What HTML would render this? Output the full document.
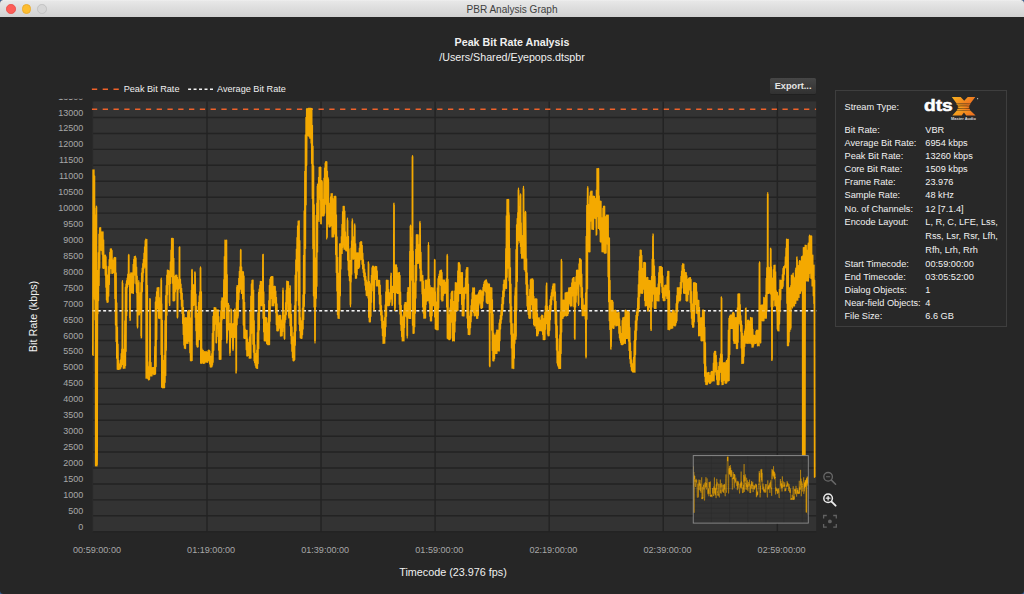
<!DOCTYPE html>
<html><head><meta charset="utf-8"><title>PBR Analysis Graph</title>
<style>
html,body{margin:0;padding:0;}
body{width:1024px;height:594px;background:#33609c;overflow:hidden;position:relative;font-family:"Liberation Sans",sans-serif;}
.win{position:absolute;left:0;top:0;width:1024px;height:594px;background:#262626;border-radius:3.5px;}
.tb{position:absolute;left:0;top:0;width:1024px;height:17.2px;background:linear-gradient(#f0f0f0 0,#e7e7e7 1.2px,#d1d1d1 100%);box-sizing:border-box;border-radius:3.5px 3.5px 0 0;}
.tbt{position:absolute;left:0;width:1024px;top:3.9px;text-align:center;font-size:10.05px;line-height:12px;color:#3e3e3e;}
.dot{position:absolute;top:4.1px;width:9.6px;height:9.6px;border-radius:50%;box-sizing:border-box;}
.h1{position:absolute;left:0;width:1024px;text-align:center;top:36px;font-size:10.7px;line-height:12px;font-weight:bold;color:#f0f0f0;}
.h2{position:absolute;left:0;width:1024px;text-align:center;top:51.2px;font-size:10.7px;line-height:12px;color:#f0f0f0;}
.lg{position:absolute;top:82.6px;font-size:9.15px;line-height:12px;color:#efefef;white-space:nowrap;}
.yl{position:absolute;left:30px;width:53.3px;text-align:right;font-size:9px;line-height:12px;color:#a8a8a8;}
.xl{position:absolute;top:544.1px;width:60px;text-align:center;font-size:9.09px;line-height:12px;color:#a8a8a8;}
.xt{position:absolute;left:353px;width:200px;text-align:center;top:565.9px;font-size:10.8px;line-height:13px;color:#f0f0f0;}
.yt{position:absolute;left:-67.5px;top:309.5px;width:200px;text-align:center;font-size:10.8px;line-height:13px;color:#f0f0f0;transform:rotate(-90deg);}
.exp{position:absolute;left:770px;top:78px;width:46.2px;height:16px;background:linear-gradient(#464646,#313131);border-radius:1.5px;box-shadow:0 0.5px 0.5px #1a1a1a;color:#e4e4e4;font-weight:bold;font-size:9.2px;line-height:16.2px;text-align:center;}
.panel{position:absolute;left:835px;top:90.3px;width:172px;height:237px;box-sizing:border-box;border:1px solid #3e3e3e;background:#282828;}
.ik{position:absolute;left:844.5px;font-size:9.2px;line-height:12px;color:#f2f2f2;white-space:nowrap;}
.iv{position:absolute;left:925.3px;font-size:9.2px;line-height:12px;color:#f2f2f2;white-space:nowrap;}
svg{position:absolute;left:0;top:0;}
</style></head><body>
<div class="win"></div>
<div class="tb"></div>
<div class="dot" style="left:6.3px;background:#fd5e58;border:0.5px solid #ec514c"></div>
<div class="dot" style="left:21.6px;background:#fdbd2f;border:0.5px solid #eaac30"></div>
<div class="dot" style="left:37px;background:#d6d6d6;border:0.5px solid #c2c2c2"></div>
<div class="tbt">PBR Analysis Graph</div>
<div class="h1">Peak Bit Rate Analysis</div>
<div class="h2">/Users/Shared/Eyepops.dtspbr</div>
<div class="lg" style="left:123.7px">Peak Bit Rate</div>
<div class="lg" style="left:217px">Average Bit Rate</div>
<div class="yl" style="top:520.75px">0</div><div class="yl" style="top:504.82px">500</div><div class="yl" style="top:488.88px">1000</div><div class="yl" style="top:472.95px">1500</div><div class="yl" style="top:457.02px">2000</div><div class="yl" style="top:441.09px">2500</div><div class="yl" style="top:425.15px">3000</div><div class="yl" style="top:409.22px">3500</div><div class="yl" style="top:393.29px">4000</div><div class="yl" style="top:377.36px">4500</div><div class="yl" style="top:361.42px">5000</div><div class="yl" style="top:345.49px">5500</div><div class="yl" style="top:329.56px">6000</div><div class="yl" style="top:313.62px">6500</div><div class="yl" style="top:297.69px">7000</div><div class="yl" style="top:281.76px">7500</div><div class="yl" style="top:265.83px">8000</div><div class="yl" style="top:249.89px">8500</div><div class="yl" style="top:233.96px">9000</div><div class="yl" style="top:218.03px">9500</div><div class="yl" style="top:202.10px">10000</div><div class="yl" style="top:186.16px">10500</div><div class="yl" style="top:170.23px">11000</div><div class="yl" style="top:154.30px">11500</div><div class="yl" style="top:138.37px">12000</div><div class="yl" style="top:122.43px">12500</div><div class="yl" style="top:106.50px">13000</div><div class="yl" style="top:90.57px;height:12px;clip-path:inset(8.1px 0 0 0)">13500</div>
<div class="xl" style="left:67.00px">00:59:00:00</div><div class="xl" style="left:181.10px">01:19:00:00</div><div class="xl" style="left:295.20px">01:39:00:00</div><div class="xl" style="left:409.30px">01:59:00:00</div><div class="xl" style="left:523.40px">02:19:00:00</div><div class="xl" style="left:637.50px">02:39:00:00</div><div class="xl" style="left:751.60px">02:59:00:00</div>
<div class="xt">Timecode (23.976 fps)</div>
<div class="yt">Bit Rate (kbps)</div>
<div class="exp">Export...</div>
<div class="panel"></div>
<div class="ik" style="top:101.00px">Stream Type:</div><div class="ik" style="top:124.00px">Bit Rate:</div><div class="iv" style="top:124.00px">VBR</div><div class="ik" style="top:137.10px">Average Bit Rate:</div><div class="iv" style="top:137.10px">6954 kbps</div><div class="ik" style="top:150.20px">Peak Bit Rate:</div><div class="iv" style="top:150.20px">13260 kbps</div><div class="ik" style="top:163.30px">Core Bit Rate:</div><div class="iv" style="top:163.30px">1509 kbps</div><div class="ik" style="top:176.30px">Frame Rate:</div><div class="iv" style="top:176.30px">23.976</div><div class="ik" style="top:189.30px">Sample Rate:</div><div class="iv" style="top:189.30px">48 kHz</div><div class="ik" style="top:202.50px">No. of Channels:</div><div class="iv" style="top:202.50px">12 [7.1.4]</div><div class="ik" style="top:216.00px">Encode Layout:</div><div class="iv" style="top:216.00px">L, R, C, LFE, Lss,</div><div class="iv" style="top:230.00px">Rss, Lsr, Rsr, Lfh,</div><div class="iv" style="top:243.80px">Rfh, Lrh, Rrh</div><div class="ik" style="top:257.60px">Start Timecode:</div><div class="iv" style="top:257.60px">00:59:00:00</div><div class="ik" style="top:270.80px">End Timecode:</div><div class="iv" style="top:270.80px">03:05:52:00</div><div class="ik" style="top:284.00px">Dialog Objects:</div><div class="iv" style="top:284.00px">1</div><div class="ik" style="top:297.00px">Near-field Objects:</div><div class="iv" style="top:297.00px">4</div><div class="ik" style="top:310.00px">File Size:</div><div class="iv" style="top:310.00px">6.6 GB</div>
<svg width="1024" height="594" viewBox="0 0 1024 594">
<defs>
<clipPath id="pc"><rect x="91.5" y="101.4" width="724.75" height="430.35"/></clipPath>
<clipPath id="mc"><rect x="693.25" y="455.6" width="115.04999999999995" height="67.5"/></clipPath>
<linearGradient id="xg" x1="0" y1="0" x2="1" y2="0.35"><stop offset="0" stop-color="#f7b21e"/><stop offset="1" stop-color="#ef7420"/></linearGradient>
<path id="dl" d="M92.6 355.19 L92.9 169.91 L93.2 355.39 L93.5 169.96 L93.8 277.82 L94.1 169.78 L94.4 286.53 L94.48 298.927 L94.7 176.12 L94.8 300 L94.88 240.604 L95 319.86 L95.12 298.765 L95.2 240 L95.3 214.74 L95.48 465.59 L95.52 240.932 L95.6 452.54 L95.8 466 L95.9 253.45 L96.08 208.011 L96.12 463.879 L96.2 452.75 L96.4 206 L96.5 253 L96.68 465.275 L96.72 206.714 L96.8 452.57 L97 466 L97.1 287.37 L97.32 464.454 L97.4 452.88 L97.7 270.43 L98 313.85 L98.3 252.49 L98.6 300.59 L98.9 234.15 L99.2 285.52 L99.5 227.83 L99.8 268.09 L100.1 227.93 L100.4 250.19 L100.7 227.51 L101 250.11 L101.3 232.54 L101.6 250.38 L101.9 231.78 L102.2 254.15 L102.5 231.96 L102.8 268.04 L103.1 231.88 L103.4 268.41 L103.7 239.93 L104 268.19 L104.3 255.15 L104.6 268.27 L104.9 255.32 L105.2 275.18 L105.5 255.08 L105.8 287.2 L106.1 256.76 L106.4 299.97 L106.7 266.17 L107 302.19 L107.3 276.38 L107.6 302.34 L107.9 274.85 L108.2 302 L108.5 266.61 L108.8 296.09 L109.1 259.64 L109.4 284.52 L109.7 252.41 L110 273.46 L110.3 248.91 L110.6 266.4 L110.9 249.06 L111.2 268.67 L111.5 248.89 L111.8 273.35 L112.1 250.56 L112.4 273.5 L112.7 259.77 L113 273.28 L113.3 261.8 L113.6 272.44 L113.9 258.18 L114.2 269.19 L114.5 257.4 L114.8 298.49 L115.1 257.83 L115.4 324.91 L115.7 257.6 L116 341.41 L116.3 272.72 L116.6 358.21 L116.9 302.93 L117.2 369.29 L117.5 327 L117.8 369.33 L118.1 344.03 L118.4 369.48 L118.7 360.37 L119 369.3 L119.3 366.53 L119.6 369.2 L119.9 363.87 L120.2 368.99 L120.5 359.78 L120.8 368.29 L121.1 353.57 L121.4 366.62 L121.7 348.97 L122 364.57 L122.18 281.835 L122.3 349.41 L122.5 280.5 L122.6 363.17 L122.82 283.308 L122.9 349.36 L123.2 368.14 L123.5 349.21 L123.8 368.35 L124.1 356.74 L124.4 368 L124.7 320.75 L125 368.22 L125.3 287.39 L125.6 365.57 L125.9 284.08 L126.2 351.31 L126.5 280.88 L126.8 315.41 L127.1 277.98 L127.4 287.73 L127.7 274.3 L128 284.47 L128.3 274.02 L128.43 255.304 L128.6 282.9 L128.75 254.25 L128.9 274.26 L129.07 255.148 L129.2 286.56 L129.5 274.12 L129.68 317.846 L129.8 286.54 L130 320.5 L130.1 274.58 L130.32 320.074 L130.4 286.63 L130.7 272.9 L131 286.7 L131.3 272.97 L131.6 293 L131.9 272.91 L132.2 293.06 L132.5 272.78 L132.8 293.02 L133.1 264.33 L133.4 293.37 L133.7 259.36 L134 283.15 L134.3 256.54 L134.6 271.22 L134.9 256.68 L135.2 275.14 L135.5 256.15 L135.8 283.85 L136.1 257.95 L136.4 292.56 L136.7 267.12 L137 302.41 L137.18 326.31 L137.3 275.96 L137.5 328 L137.6 312.54 L137.82 326.999 L137.9 284.96 L138.2 314.51 L138.43 282.946 L138.5 293.43 L138.75 280.5 L138.8 314.82 L139.07 282.145 L139.1 303.34 L139.4 314.83 L139.7 298.49 L140 312.77 L140.3 292.57 L140.6 308.05 L140.9 282.66 L140.93 335.718 L141.2 302.77 L141.25 338 L141.5 272.78 L141.57 337.492 L141.8 297.79 L142.1 268.04 L142.4 291.8 L142.7 263.53 L143 281.6 L143.3 259.37 L143.6 272.74 L143.9 253.18 L144.2 268.26 L144.5 246.94 L144.8 263.74 L145.1 240.64 L145.4 267.34 L145.7 239.19 L146 378.21 L146.3 239.48 L146.6 378.02 L146.9 239.33 L147.2 378.16 L147.5 285.25 L147.8 378.57 L148.1 367.73 L148.4 379.81 L148.7 366.58 L149 379.82 L149.3 361.78 L149.6 379.38 L149.68 298.5 L149.9 361.86 L150 300.5 L150.2 375.92 L150.32 298.704 L150.5 361.88 L150.8 375.87 L151.1 362.54 L151.4 376 L151.7 369 L152 375.89 L152.3 367.52 L152.6 374.05 L152.9 367.6 L153.2 373.55 L153.5 367.53 L153.8 374.7 L154.1 367.21 L154.4 374.36 L154.7 346.53 L155 374.45 L155.3 302.09 L155.6 373.71 L155.9 297.19 L156.2 366.62 L156.5 291.72 L156.8 339.43 L157.1 287.9 L157.4 301.79 L157.7 287.91 L158 308.54 L158.3 287.52 L158.6 318.09 L158.9 287.5 L159.2 318.59 L159.5 297.61 L159.8 318.21 L160.1 305.33 L160.4 318.08 L160.7 304.49 L160.93 279.384 L161 354.43 L161.25 278 L161.3 304.11 L161.57 280.298 L161.6 387.13 L161.9 303.94 L162.2 387.43 L162.5 320.43 L162.8 388 L163.1 360.3 L163.4 387.65 L163.7 376.3 L164 387.64 L164.3 355.25 L164.6 387.66 L164.9 320.55 L165.2 382.36 L165.5 295.67 L165.8 375.53 L166.1 285.65 L166.4 350.15 L166.7 275.1 L167 315.25 L167.3 269.95 L167.6 294.8 L167.9 270.18 L168.2 284.53 L168.5 270.49 L168.8 284.26 L169.1 271.29 L169.18 303.006 L169.4 284 L169.5 305.5 L169.7 270.72 L169.82 305.157 L170 284.1 L170.3 261.87 L170.6 283.37 L170.9 250.12 L171.2 276.73 L171.5 238.44 L171.8 270.47 L172.1 238.28 L172.4 283.27 L172.7 238.41 L173 300.65 L173.3 238.58 L173.6 300.96 L173.9 258.21 L174.2 300.84 L174.5 279.54 L174.8 300.35 L175.1 276.13 L175.4 291.77 L175.7 275.2 L176 283.91 L176.3 275.08 L176.6 289.27 L176.9 275.18 L177.18 317.132 L177.2 289.29 L177.5 277.64 L177.5 318 L177.8 289.42 L177.82 316.919 L178.1 280.87 L178.4 289.57 L178.7 279.34 L179 286.96 L179.18 247.369 L179.3 278.93 L179.5 246.75 L179.6 288.49 L179.82 246.931 L179.9 279.42 L180.2 292.69 L180.5 279.23 L180.8 299.33 L181.1 283.98 L181.4 306.19 L181.7 288.36 L182 313.47 L182.3 293.03 L182.6 323.59 L182.9 300 L183.2 334.4 L183.5 307.2 L183.8 345.03 L184.1 314.17 L184.4 348.13 L184.7 324.68 L185 348.24 L185.3 317.71 L185.6 348.59 L185.9 317.5 L186.2 343.3 L186.5 317.74 L186.8 343.31 L187.1 317.8 L187.4 343.12 L187.7 311.61 L188 343.43 L188.3 310.49 L188.6 340.73 L188.9 310.24 L189.2 341.61 L189.5 310.3 L189.8 352.77 L190.1 317.89 L190.4 360.54 L190.7 318.81 L191 360.97 L191.3 290.26 L191.6 360.56 L191.68 270.093 L191.9 288.37 L192 269.25 L192.2 360.52 L192.32 269.841 L192.5 285.75 L192.8 310.43 L193.1 285.17 L193.4 290.71 L193.43 303.395 L193.7 284.7 L193.75 305.5 L194 292.49 L194.07 304.156 L194.3 285.09 L194.6 304.57 L194.68 272.089 L194.9 285.51 L195 271.75 L195.2 317.3 L195.32 272.723 L195.5 288.88 L195.8 330.7 L196.1 294.05 L196.4 344.86 L196.7 306.3 L197 346.79 L197.3 318.59 L197.6 347.13 L197.9 313.27 L198.2 346.8 L198.5 302.29 L198.8 339.72 L199.1 295.8 L199.4 325.81 L199.7 291.8 L200 339.67 L200.18 268.156 L200.3 291.44 L200.5 266.75 L200.6 363.16 L200.82 267.839 L200.9 291.92 L201.2 363.32 L201.5 291.86 L201.8 363.07 L202.1 348.7 L202.4 361.53 L202.7 350.38 L203 363.19 L203.3 350.32 L203.6 363.46 L203.9 354.33 L204.2 363.3 L204.5 351.64 L204.8 362.89 L205.1 351.74 L205.4 358.97 L205.7 351.74 L206 362.19 L206.3 351.42 L206.6 361.86 L206.9 354.13 L207.2 362.31 L207.5 352.04 L207.8 362.24 L208.1 350.24 L208.4 359.48 L208.7 350 L209 360.74 L209.3 350.2 L209.6 363.91 L209.9 351.11 L210.2 366.71 L210.5 356 L210.8 367.17 L211.1 360.62 L211.4 366.99 L211.7 353.49 L212 366.78 L212.3 333.22 L212.6 365.04 L212.9 316.36 L213.2 362.15 L213.5 311.9 L213.8 350.35 L214.1 307.5 L214.4 330.42 L214.7 307.6 L215 320.97 L215.3 307.85 L215.6 324.18 L215.9 307.72 L215.93 342.496 L216.2 324.09 L216.25 343 L216.5 310.23 L216.57 342.785 L216.8 324.16 L217.1 309.92 L217.4 325.48 L217.7 310.17 L218 336.4 L218.3 309.92 L218.6 350.24 L218.9 316.69 L219.2 359.25 L219.5 326.27 L219.8 359.53 L220.1 322.65 L220.4 359.37 L220.7 310.5 L221 359.25 L221.3 301.04 L221.6 339.5 L221.9 297.76 L222.2 319.68 L222.5 297.99 L222.8 318.18 L223.1 297.86 L223.4 318.35 L223.7 279.68 L224 318.45 L224.3 256.61 L224.6 318.43 L224.9 239.97 L225.2 300.23 L225.5 240.3 L225.8 307.03 L226.1 240.41 L226.4 321.83 L226.68 342.968 L226.7 240.11 L227 325.03 L227 343 L227.3 274.54 L227.32 340.024 L227.6 329.14 L227.9 312.34 L228.2 329.94 L228.43 303.249 L228.5 321.51 L228.75 305.5 L228.8 329.58 L229.07 305.248 L229.1 323.69 L229.4 329.8 L229.68 353.349 L229.7 323.5 L230 334.88 L230 355.5 L230.3 323.5 L230.32 352.559 L230.6 337.35 L230.9 323.46 L230.93 308.809 L231.2 337.41 L231.25 310.5 L231.5 327.3 L231.57 310.174 L231.8 337.14 L232.1 323.98 L232.4 335.97 L232.68 349.033 L232.7 323.78 L233 332.73 L233 350.5 L233.3 323.5 L233.32 349.197 L233.6 337.34 L233.9 323.62 L234.18 309.931 L234.2 337.38 L234.5 327.92 L234.5 310.5 L234.8 337.29 L234.82 308.871 L235.1 325.11 L235.4 337.48 L235.7 311.85 L235.93 372.975 L236 333.59 L236.25 373 L236.3 302.53 L236.57 370.241 L236.6 329.22 L236.68 287.434 L236.9 299.51 L237 285.5 L237.2 324.81 L237.32 287.383 L237.5 292.68 L237.68 315.194 L237.8 309.74 L238 318 L238.1 285.27 L238.32 316.042 L238.4 302.74 L238.7 278.22 L239 299.44 L239.3 271.27 L239.6 291.9 L239.9 266.77 L240.2 284.49 L240.43 250.004 L240.5 266.59 L240.75 249.25 L240.8 289.3 L241.07 249.988 L241.1 266.63 L241.4 293.39 L241.7 266.95 L242 293.09 L242.3 271.6 L242.6 298.7 L242.9 271.57 L243.2 325.09 L243.5 271.74 L243.8 338.04 L244.1 276.01 L244.4 338.4 L244.7 302.25 L245 338.41 L245.3 328.99 L245.6 337.88 L245.9 330.22 L246.2 349.78 L246.5 330.43 L246.8 356.04 L247.1 330.38 L247.4 356.09 L247.7 338.94 L248 355.51 L248.3 342.72 L248.6 354.99 L248.9 342.42 L249.2 358.27 L249.5 336.84 L249.8 358.13 L250.1 311.23 L250.4 358.13 L250.7 296.15 L251 358.09 L251.3 284.19 L251.6 333.37 L251.9 280.42 L252.2 315.99 L252.5 280.19 L252.8 344.23 L253.1 280.08 L253.4 352.24 L253.7 289.96 L254 360.79 L254.3 320.49 L254.6 362.75 L254.9 344.8 L255.2 365.27 L255.5 353.32 L255.8 367.33 L256.1 360.67 L256.4 368.19 L256.7 350 L257 368 L257.3 332.55 L257.6 368.5 L257.9 312.93 L258.2 363.56 L258.5 292.57 L258.8 348.54 L259.1 288.97 L259.4 329.89 L259.7 285.05 L260 310.27 L260.3 281.4 L260.6 293.05 L260.9 281.49 L261.2 305.67 L261.5 281.72 L261.8 305.56 L262.1 281.25 L262.4 305.67 L262.68 254.666 L262.7 291.44 L263 318.15 L263 254.25 L263.3 291.84 L263.32 254.333 L263.6 331.81 L263.9 291.89 L264.2 340.72 L264.5 304.43 L264.8 341.03 L265.1 319.76 L265.4 340.88 L265.7 317.45 L266 341.06 L266.3 317.67 L266.6 343.53 L266.9 317.97 L267.2 344.14 L267.5 322.73 L267.8 344.7 L268.1 325.78 L268.4 344.42 L268.7 300.47 L269 344.81 L269.3 285.42 L269.6 344.53 L269.9 279.29 L270.2 321.18 L270.5 277.56 L270.8 298.59 L271.1 276.59 L271.4 288.64 L271.7 276.57 L272 305.83 L272.3 276.51 L272.6 305.6 L272.9 276.65 L273.2 305.62 L273.5 286.21 L273.8 305.8 L274.1 286.62 L274.4 301.04 L274.7 286.15 L275 303.09 L275.3 286.67 L275.6 312.62 L275.9 290.98 L276.2 324.71 L276.5 297.41 L276.8 330.64 L277.1 303.74 L277.4 330.84 L277.7 313.97 L278 330.95 L278.3 319.45 L278.6 330.15 L278.9 315.79 L279.2 326.53 L279.5 315.3 L279.8 328.34 L280.1 315.33 L280.4 336.08 L280.7 315.42 L281 335.8 L281.3 319.92 L281.6 336.02 L281.9 322.64 L282.2 335.66 L282.5 321.68 L282.68 290.323 L282.8 331.5 L283 288 L283.1 321.37 L283.32 290.519 L283.4 327.2 L283.7 319.45 L284 322.52 L284.18 338.361 L284.3 315.32 L284.5 339.25 L284.6 321.82 L284.82 338.693 L284.9 310.27 L285.2 322.14 L285.5 302.47 L285.8 319.54 L286.1 290.15 L286.4 314.79 L286.7 281.19 L287 310.42 L287.3 281.24 L287.6 301.23 L287.9 281.6 L288.2 301.05 L288.43 316.086 L288.5 281.66 L288.75 318 L288.8 303.93 L289.07 315.463 L289.1 289.62 L289.4 313.38 L289.68 288.28 L289.7 297.88 L290 325.69 L290 285.5 L290.3 300.96 L290.32 286.005 L290.6 335.67 L290.9 303.73 L291.2 343.82 L291.5 314.43 L291.8 351.14 L292.1 326.83 L292.4 357.39 L292.7 336.62 L293 360.58 L293.3 345.05 L293.6 360.88 L293.9 332.48 L294.2 360.57 L294.5 305.46 L294.8 359.61 L295.1 275.15 L295.4 345.13 L295.7 259.77 L296 330.86 L296.3 249.09 L296.6 300.68 L296.9 237.46 L297.2 271.08 L297.5 225.71 L297.8 258.63 L298.1 220.96 L298.4 305.24 L298.7 221.1 L299 324.29 L299.3 220.83 L299.6 330.76 L299.9 240.59 L300.2 337.73 L300.5 317.6 L300.8 338.25 L301.1 324.7 L301.4 338.4 L301.7 320.61 L302 338.14 L302.3 308.15 L302.6 334.7 L302.9 294.91 L303.2 328.91 L303.5 255.38 L303.8 319.48 L304.1 210.89 L304.4 306.3 L304.7 171.21 L305 293.58 L305.3 134.81 L305.6 248.49 L305.9 117.36 L306.2 204.8 L306.5 108.79 L306.8 165.18 L307.1 108.68 L307.4 133.17 L307.7 109.14 L308 135.63 L308.3 108.5 L308.6 135.9 L308.9 108.18 L309.2 136.63 L309.5 108.51 L309.8 138.13 L310.1 108.17 L310.4 138.09 L310.7 108.72 L311 143.04 L311.3 108.51 L311.6 163.54 L311.9 108.22 L312.2 198.44 L312.5 125.28 L312.8 248.56 L313.1 146.14 L313.4 295.81 L313.7 165.77 L314 306.95 L314.3 204.65 L314.6 306.9 L314.68 340.646 L314.9 257.77 L315 343 L315.2 306.72 L315.32 340.509 L315.5 259.47 L315.8 306.6 L316.1 215.3 L316.4 298.35 L316.7 203.17 L317 286.27 L317.18 186.227 L317.3 199.95 L317.5 184 L317.6 251.91 L317.82 184.98 L317.9 193.48 L318.2 212.81 L318.43 219.554 L318.5 177.51 L318.75 219 L318.8 203.31 L319.07 221.476 L319.1 167.24 L319.4 199.49 L319.7 167.22 L320 194.22 L320.3 166.95 L320.6 198.92 L320.68 223.71 L320.9 167.28 L321 222.75 L321.2 205.24 L321.32 223.856 L321.5 180.73 L321.68 182.153 L321.8 213.05 L322 180.5 L322.1 194.31 L322.32 181.608 L322.4 215.96 L322.7 199.58 L323 215.52 L323.3 206.01 L323.6 216.05 L323.9 177.98 L324.2 215.31 L324.5 168.06 L324.8 213.14 L325.1 163.16 L325.4 204.37 L325.7 161.63 L326 191.41 L326.3 161.57 L326.6 201.88 L326.68 238.994 L326.9 161.83 L327 236.5 L327.2 212.13 L327.32 237.218 L327.5 171.3 L327.8 218.5 L327.93 177.874 L328.1 192.61 L328.25 177.75 L328.4 223.92 L328.57 179.451 L328.7 203.42 L329 226.64 L329.3 213.16 L329.6 227.07 L329.9 203.2 L330.2 226.73 L330.5 196.72 L330.8 225.71 L331.1 193.7 L331.4 216.66 L331.7 193.89 L332 236.98 L332.3 193.56 L332.6 236.99 L332.9 198.64 L333.2 236.86 L333.5 204.55 L333.8 236.69 L334.1 196.28 L334.4 227.57 L334.7 196.45 L335 234.12 L335.3 196.05 L335.6 254.55 L335.9 196.46 L336.2 272.42 L336.5 214.92 L336.8 290.9 L337.1 236.81 L337.4 314.63 L337.7 257.21 L338 318.16 L338.3 274.55 L338.6 318.06 L338.9 273.1 L339.2 318.43 L339.5 243.73 L339.8 310.64 L340.1 243.75 L340.4 295.87 L340.7 243.6 L341 268.95 L341.3 236.49 L341.6 253.4 L341.9 224.45 L342.2 253.5 L342.5 211.62 L342.8 247.34 L343.1 206.28 L343.4 235.44 L343.7 206.38 L344 249.15 L344.3 206.35 L344.6 249.09 L344.9 211.07 L345.2 249.35 L345.5 231.8 L345.8 250.74 L346.1 237.4 L346.4 250.8 L346.7 236.86 L347 250.99 L347.18 219.885 L347.3 236.61 L347.5 218 L347.6 260.33 L347.82 220.459 L347.9 236.94 L348.2 270.08 L348.5 236.51 L348.8 275.7 L349.1 248.85 L349.4 280.62 L349.7 261.62 L350 281.57 L350.18 304.633 L350.3 260.59 L350.5 306.75 L350.6 282.08 L350.82 304.034 L350.9 247.95 L351.2 282.06 L351.5 240.83 L351.8 274.22 L351.93 221.585 L352.1 238.5 L352.25 218.75 L352.4 258.26 L352.57 220.233 L352.7 236.78 L353 247.07 L353.18 259.499 L353.3 237.19 L353.5 258 L353.6 243.99 L353.82 258.472 L353.9 236.88 L354.2 256.69 L354.43 224.649 L354.5 237.03 L354.75 223.75 L354.8 272.72 L355.07 225.493 L355.1 240.61 L355.4 278.15 L355.7 243.85 L356 278.39 L356.3 252.88 L356.6 278.01 L356.9 252.8 L357.2 274.41 L357.5 252.89 L357.8 268.19 L358.1 252.88 L358.4 268.48 L358.7 253.27 L359 268.04 L359.3 248.1 L359.6 267.04 L359.9 242.55 L360.2 259.98 L360.5 241.95 L360.8 252.66 L361.1 241.58 L361.4 259.45 L361.7 241.83 L362 264.18 L362.3 245.27 L362.6 268.81 L362.9 253.18 L363.2 272.59 L363.5 259.75 L363.8 276.64 L364.1 264.2 L364.4 280.09 L364.7 269.13 L365 285.22 L365.3 272.88 L365.6 289.93 L365.9 276.21 L366.2 295.33 L366.5 280.01 L366.8 295.74 L367.1 285.11 L367.4 295.78 L367.7 281.9 L368 297.91 L368.18 261.991 L368.3 281.67 L368.5 261.75 L368.6 317.36 L368.82 263.814 L368.9 281.45 L369.2 321.8 L369.5 281.63 L369.8 321.97 L370.1 291.38 L370.4 321.84 L370.7 283.64 L371 316.31 L371.3 275.38 L371.6 302.27 L371.9 267.77 L372.2 290.86 L372.5 266.17 L372.8 282.62 L373.1 266.67 L373.4 280.82 L373.68 310.009 L373.7 266.16 L374 280.54 L374 310.5 L374.3 270.77 L374.32 309.17 L374.6 280.81 L374.9 267.19 L375.2 279.44 L375.5 266.38 L375.8 279.24 L376.1 266.65 L376.4 285.97 L376.7 266.62 L377 285.74 L377.3 270.74 L377.6 286 L377.9 280.14 L378.2 285.63 L378.5 280.26 L378.8 294.14 L379.1 280.27 L379.4 303.91 L379.7 280.35 L380 310.22 L380.3 284.96 L380.6 314.95 L380.9 295.16 L381.2 320.53 L381.5 305.48 L381.8 328.07 L382.1 310.57 L382.4 335.65 L382.7 315.46 L383 343.38 L383.3 320.96 L383.6 343.25 L383.9 327.65 L384.2 343.26 L384.5 317.6 L384.8 343.27 L385.1 304.88 L385.4 336.35 L385.7 291.91 L386 326.63 L386.3 280.36 L386.6 316.32 L386.9 280.03 L387.2 303.27 L387.5 280.39 L387.8 305.78 L388.1 280.44 L388.4 305.58 L388.7 289.24 L389 305.56 L389.3 295.51 L389.6 305.27 L389.9 292.52 L390.2 302.1 L390.5 289.75 L390.68 275.909 L390.8 298.92 L391 273 L391.1 286.69 L391.32 273.269 L391.4 295.55 L391.7 286.47 L391.93 305.38 L392 292.3 L392.25 305.5 L392.3 286.27 L392.57 304.181 L392.6 291.31 L392.9 286.42 L393.2 292.51 L393.5 284.9 L393.68 203.572 L393.8 292.44 L394 203 L394.1 277.16 L394.32 205.169 L394.4 292.12 L394.68 310.492 L394.7 268.96 L395 292.3 L395 310.5 L395.3 264.93 L395.32 307.978 L395.6 284.75 L395.9 265.4 L396.2 292.37 L396.5 264.94 L396.8 293.04 L397.1 267.49 L397.4 293.45 L397.7 276.33 L398 293.54 L398.3 272.84 L398.6 289.99 L398.9 272.91 L399.2 304.13 L399.5 272.45 L399.8 313.96 L400.1 275.59 L400.4 324.14 L400.7 292.06 L401 330.52 L401.3 305.39 L401.6 336.6 L401.9 314.94 L402.2 340.91 L402.5 324.96 L402.8 340.6 L403.1 316.53 L403.4 340.57 L403.7 310.68 L404 340.88 L404.3 304.78 L404.6 327.52 L404.9 302.67 L405.2 316.35 L405.5 302.47 L405.8 313.09 L406.1 302.4 L406.4 316.88 L406.7 304.31 L406.93 335.434 L407 316.98 L407.25 338 L407.3 292.4 L407.57 335.639 L407.6 317.09 L407.9 287.65 L408.2 316.72 L408.5 287.54 L408.8 318.27 L409.1 287.89 L409.4 318.45 L409.7 251.27 L410 318.49 L410.18 226.276 L410.3 241.55 L410.5 225 L410.6 318.38 L410.82 225.85 L410.9 237.91 L411.18 269.985 L411.2 280.25 L411.5 238.1 L411.5 268 L411.8 278.24 L411.82 269.544 L412.1 238.5 L412.18 156.764 L412.4 325.17 L412.5 155.5 L412.7 241.61 L412.82 156.516 L413 333.37 L413.3 251.04 L413.6 333.31 L413.9 285.36 L414.2 333.08 L414.5 282.86 L414.8 326.79 L415.1 265.35 L415.4 313.2 L415.7 249.31 L416 298.06 L416.3 234.79 L416.6 280.13 L416.9 234.65 L417.2 263.07 L417.5 234.88 L417.8 263.37 L418.1 234.72 L418.4 263.08 L418.7 244.52 L419 263.15 L419.3 249.41 L419.6 268.16 L419.68 222.566 L419.9 249.12 L420 221.25 L420.2 281.02 L420.32 223.248 L420.5 249.03 L420.8 280.74 L421.1 252.44 L421.4 280.51 L421.7 270.81 L422 293.84 L422.3 275.29 L422.6 306.89 L422.9 275.23 L423.2 313.06 L423.5 281.06 L423.8 318.15 L424.1 295.36 L424.4 318.03 L424.7 289.18 L425 318.24 L425.3 280.36 L425.6 318.04 L425.9 280.03 L426.2 304.51 L426.5 280.17 L426.8 301.06 L427.1 282.01 L427.4 300.62 L427.7 279.14 L428 300.8 L428.18 244.978 L428.3 279.12 L428.5 242.5 L428.6 295.11 L428.82 245.212 L428.9 279.4 L429.2 303.09 L429.5 279.32 L429.8 316.13 L430.1 285.45 L430.4 320.97 L430.7 292.03 L431 320.5 L431.3 287.49 L431.6 320.95 L431.9 287.72 L432.2 315.75 L432.5 287.73 L432.8 305.64 L433.1 287.94 L433.4 305.64 L433.7 292.52 L434 305.7 L434.3 291.55 L434.43 259.743 L434.6 316.9 L434.75 259.25 L434.9 291.49 L435.07 260.137 L435.2 328.63 L435.5 291.84 L435.8 329.13 L436.1 301.82 L436.4 329.72 L436.7 311.39 L437 329.41 L437.3 287.91 L437.6 329.83 L437.9 278.77 L438.2 329.78 L438.5 276.49 L438.8 307.96 L439.1 273.96 L439.4 284.85 L439.7 271.13 L440 278.95 L440.3 270.3 L440.6 285.43 L440.9 270.3 L441.2 299.44 L441.5 269.96 L441.8 300.88 L442.1 272.48 L442.4 300.9 L442.7 279.91 L443 300.78 L443.3 280 L443.6 295.32 L443.9 279.99 L444.2 293.26 L444.5 280.07 L444.8 293.34 L445.1 285.53 L445.4 293.13 L445.7 282.1 L446 291.7 L446.3 278.95 L446.6 306.89 L446.9 279.48 L446.93 255.579 L447.2 338.21 L447.25 254.25 L447.5 278.94 L447.57 255.94 L447.8 338.78 L448.1 279.41 L448.4 339.02 L448.7 314.58 L449 339.67 L449.3 324.02 L449.6 339.67 L449.9 307.76 L450.2 339.29 L450.5 299.65 L450.8 338.12 L451.1 292.91 L451.4 322.19 L451.7 291.22 L452 321.04 L452.3 291.23 L452.6 341.05 L452.9 291.18 L453.2 340.56 L453.5 301.38 L453.8 340.57 L454.1 308.18 L454.4 341.01 L454.7 290.91 L455 331.88 L455.3 282.5 L455.6 321.08 L455.9 282.83 L456.2 309.46 L456.5 282.94 L456.8 310.95 L457.1 285.08 L457.4 310.69 L457.7 270.89 L458 310.51 L458.3 262.85 L458.6 301.17 L458.9 262.57 L459.2 287.22 L459.5 262.81 L459.8 293.58 L460.1 264.7 L460.4 293.51 L460.7 272.63 L461 293.02 L461.3 272.75 L461.6 304.43 L461.9 272.54 L462.2 315.71 L462.5 272.58 L462.8 315.82 L463.1 287.87 L463.4 316.02 L463.7 287.95 L464 315.99 L464.3 287.9 L464.6 299 L464.9 287.16 L465.2 293.46 L465.5 278.13 L465.8 293 L466.1 269.85 L466.4 293.29 L466.7 267.52 L467 318.11 L467.3 267.7 L467.6 327.96 L467.9 267.5 L468.2 334.41 L468.5 284.1 L468.8 334.42 L469.1 319.5 L469.4 334.67 L469.7 315.99 L470 334.32 L470.3 310.76 L470.6 327.8 L470.9 305.53 L471.2 321.67 L471.5 299.53 L471.8 315.81 L472.1 292.59 L472.4 310.53 L472.7 287.76 L473 305.68 L473.3 287.95 L473.6 312.73 L473.9 287.98 L474.2 315.62 L474.5 287.84 L474.8 316.04 L475.1 295.2 L475.4 315.73 L475.7 294.97 L476 313.64 L476.3 295.22 L476.6 318.32 L476.9 295.05 L477.2 318.45 L477.5 295.11 L477.8 318.21 L478.1 293.8 L478.4 315.39 L478.7 291.99 L479 304.9 L479.3 290.55 L479.6 295.35 L479.9 290.24 L480.2 303.21 L480.5 290.15 L480.8 308.08 L481.1 290.22 L481.4 308.53 L481.7 293.86 L482 308.11 L482.3 291.1 L482.6 307.42 L482.9 287.35 L483.2 301.09 L483.5 284.33 L483.8 295.15 L484.1 282.1 L484.4 291.03 L484.7 281 L485 287.48 L485.3 280.39 L485.6 291.89 L485.9 280.06 L486.2 302.16 L486.5 279.92 L486.8 303.06 L487.1 282.07 L487.4 303.59 L487.7 283.77 L488 303.44 L488.3 283.99 L488.6 299.55 L488.9 283.87 L489.2 301.56 L489.43 365.706 L489.5 284.13 L489.75 366.75 L489.8 301.73 L490.07 366.164 L490.1 287.98 L490.4 301.74 L490.7 287.53 L491 312.42 L491.3 287.7 L491.6 330.28 L491.9 287.72 L492.2 350.39 L492.5 299.64 L492.8 360.74 L493.1 313.96 L493.4 361.04 L493.7 333.04 L494 360.84 L494.3 335.05 L494.6 358.75 L494.9 335.36 L495.2 353.43 L495.5 334.97 L495.8 353.46 L496.1 332.78 L496.4 353.51 L496.7 330.09 L497 353.38 L497.3 330.23 L497.6 350.69 L497.9 330.12 L498.2 350.56 L498.5 330.25 L498.8 350.97 L499.1 322.97 L499.4 350.88 L499.7 319.65 L500 340.75 L500.3 315.33 L500.6 328.87 L500.9 310.55 L501.2 323.21 L501.5 304.44 L501.8 319.31 L502.1 297.41 L502.4 315.27 L502.7 290.77 L503 310.29 L503.3 284.42 L503.6 303.82 L503.9 280.17 L504.2 296.7 L504.5 280.03 L504.8 290.56 L505.1 280.19 L505.4 288.06 L505.7 248.46 L506 288.32 L506.3 215.77 L506.6 288.31 L506.9 199.62 L507.2 277.3 L507.5 199.69 L507.8 243.45 L508.1 199.43 L508.18 268.255 L508.4 265.03 L508.5 268 L508.68 213.881 L508.7 199.59 L508.82 268.971 L509 280.74 L509 212.5 L509.3 218.61 L509.32 215.414 L509.6 303.07 L509.9 248.21 L510.2 322.21 L510.5 267.47 L510.8 334.16 L511.1 284.01 L511.4 348.01 L511.7 306.5 L512 368.25 L512.3 323.58 L512.6 368.21 L512.9 335.84 L513.2 368.13 L513.5 333.93 L513.8 368.56 L514.1 323.51 L514.4 358.13 L514.68 295.726 L514.7 311.79 L515 343.24 L515 293 L515.3 287.53 L515.32 295.596 L515.6 332.73 L515.68 336.327 L515.9 249.51 L516 339.25 L516.2 322.39 L516.32 336.365 L516.5 224.92 L516.8 310.63 L517.1 218.48 L517.4 281.52 L517.7 212.47 L518 243.91 L518.18 189.86 L518.3 208.32 L518.5 188 L518.6 224.71 L518.82 190.433 L518.9 206.76 L519.18 240.68 L519.2 221.36 L519.5 207.07 L519.5 240.5 L519.8 233.63 L519.82 242.529 L520.1 207.17 L520.18 195.577 L520.4 246.4 L520.5 193.75 L520.7 210.99 L520.82 194.641 L521 253.51 L521.3 222.89 L521.6 258.23 L521.9 235.25 L522.2 258.26 L522.5 244.39 L522.8 258 L523.1 232.22 L523.18 187.963 L523.4 258.17 L523.5 186.25 L523.7 224.6 L523.82 189.108 L524 251.43 L524.18 269.442 L524.3 224.46 L524.5 268 L524.6 257.11 L524.82 269.942 L524.9 224.37 L525.18 212.148 L525.2 271.35 L525.5 224.53 L525.5 211.25 L525.8 284.06 L525.82 212.28 L526.1 242.09 L526.4 294.53 L526.7 258.7 L527 306.04 L527.3 272.83 L527.6 309.87 L527.9 284.83 L528.2 314.45 L528.5 296.32 L528.8 318.01 L529.1 305.64 L529.4 318.39 L529.7 289.35 L530 318.06 L530.3 280.11 L530.6 318.14 L530.9 279.13 L531.2 304.71 L531.5 279.16 L531.8 294.64 L532.1 278.77 L532.4 310.4 L532.7 278.72 L533 318.37 L533.3 280.13 L533.6 324.4 L533.9 296.26 L534.2 325.97 L534.5 309.25 L534.8 325.62 L535.1 298.83 L535.4 325.82 L535.7 298.8 L536 328.51 L536.3 298.72 L536.6 335.83 L536.9 299.09 L537.2 335.64 L537.5 313.67 L537.8 335.8 L538.1 317.96 L538.4 333.68 L538.7 317.91 L539 327.67 L539.3 317.7 L539.6 330.82 L539.9 319.98 L540.2 330.5 L540.5 321.42 L540.8 330.78 L541.1 316.45 L541.4 330.9 L541.7 315 L542 326.44 L542.3 315.25 L542.6 334.4 L542.9 315.45 L543.2 339.63 L543.5 318.51 L543.8 339.27 L544.1 320.18 L544.4 339.66 L544.7 312.58 L545 339.45 L545.3 306.07 L545.6 329.36 L545.9 304.21 L546.18 285.655 L546.2 319.39 L546.5 304.48 L546.5 283 L546.8 323.68 L546.82 283.084 L547.1 304.12 L547.4 333.95 L547.7 306.68 L548 335.72 L548.3 315.02 L548.6 335.82 L548.9 311.04 L549.2 335.63 L549.5 305.24 L549.8 330.35 L550.1 299.57 L550.4 319.8 L550.7 296.12 L551 311 L551.3 292.51 L551.6 304.8 L551.9 289.59 L552.2 299.6 L552.5 286.17 L552.8 296.09 L553.1 283.77 L553.4 292.45 L553.7 284.06 L554 300.26 L554.3 283.9 L554.6 310.63 L554.9 283.78 L555.2 323.77 L555.5 291.73 L555.8 337.53 L556.1 301.34 L556.4 350.03 L556.7 312.32 L557 363 L557.3 325.89 L557.6 365.27 L557.9 338.8 L558.2 366.82 L558.5 351.69 L558.8 368.55 L559.1 355.97 L559.4 368.37 L559.7 334.92 L560 368.42 L560.3 311.84 L560.6 368.41 L560.9 304.37 L561.18 259.817 L561.2 353.4 L561.5 304.23 L561.5 259.25 L561.8 331.91 L561.82 261.286 L562.1 304.44 L562.4 318.11 L562.7 300.48 L563 318.46 L563.3 299.95 L563.6 316.64 L563.9 300.28 L564.2 315.99 L564.5 300.03 L564.8 315.84 L565.1 292.85 L565.4 315.68 L565.7 292.75 L566 311.19 L566.3 292.74 L566.6 315.89 L566.9 292.44 L567.2 315.53 L567.5 295.16 L567.8 315.52 L568.1 291.83 L568.4 313.59 L568.7 287.95 L569 304.05 L569.3 287.73 L569.6 299.91 L569.9 287.77 L570.2 305.86 L570.5 287.44 L570.8 306.09 L571.1 287.61 L571.4 305.75 L571.7 282.74 L572 305.89 L572.3 279.07 L572.6 295.99 L572.9 277.99 L573.2 293.96 L573.5 277.59 L573.8 306.57 L574.1 277.42 L574.4 306.55 L574.43 337.908 L574.7 282.04 L574.75 339.25 L575 306.58 L575.07 338.994 L575.3 287.59 L575.6 306.93 L575.9 276.65 L576.2 302.08 L576.5 270.39 L576.8 295.19 L577.1 270.04 L577.4 286.23 L577.7 269.99 L578 284.44 L578.18 303.519 L578.3 270.99 L578.5 305.5 L578.6 284.38 L578.82 304.384 L578.9 263.77 L579.2 284.28 L579.5 258.69 L579.8 279.91 L580.1 258.67 L580.4 286.13 L580.7 259.24 L581 297.18 L581.3 260.01 L581.6 308.66 L581.9 274.15 L582.2 315.69 L582.5 287.56 L582.8 315.6 L583.1 298.48 L583.4 315.79 L583.7 305.75 L584 315.72 L584.3 305.16 L584.6 314.94 L584.9 305.09 L585.2 319.09 L585.5 292.85 L585.68 356.258 L585.8 319.22 L586 358 L586.1 236.36 L586.32 356.751 L586.4 319.38 L586.7 205.6 L587 319.23 L587.3 204.03 L587.43 188.09 L587.6 288.77 L587.75 186.5 L587.9 204.03 L588.07 188.194 L588.2 251.84 L588.5 204.32 L588.8 251.54 L589.1 205.42 L589.4 251.92 L589.7 196.2 L590 251.7 L590.3 192.44 L590.6 221.29 L590.9 191 L591.2 216.59 L591.5 191.31 L591.8 229.26 L592.1 190.97 L592.4 229.23 L592.7 198.16 L593 229.36 L593.3 195.96 L593.6 229.48 L593.9 196.33 L594.2 218 L594.5 196.34 L594.8 218.25 L595.1 198.3 L595.4 218.49 L595.7 202.47 L596 218.03 L596.18 235.189 L596.3 190.1 L596.5 234 L596.6 216.99 L596.82 234.343 L596.9 168.48 L597.2 216.84 L597.5 168.84 L597.8 215.01 L598.1 168.52 L598.4 228.41 L598.7 168.45 L599 228.21 L599.3 195.72 L599.6 229.83 L599.9 201.02 L600.2 241.62 L600.5 201.05 L600.8 242.06 L601.1 201.36 L601.4 241.86 L601.7 217.59 L602 251.78 L602.3 217.88 L602.6 251.65 L602.9 208.35 L603.2 251.97 L603.5 206.22 L603.8 249.32 L604.1 206.02 L604.4 253.21 L604.7 206.36 L605 253.1 L605.3 216.56 L605.6 253.28 L605.9 217.19 L606.2 253.04 L606.5 215.15 L606.8 234.71 L607.1 215.38 L607.4 244.11 L607.7 215.08 L608 276.72 L608.3 215.16 L608.6 301.64 L608.9 237.69 L609.2 320.79 L609.5 237.97 L609.8 329.4 L610.1 280.43 L610.4 331.56 L610.68 348.708 L610.7 305.17 L611 331.97 L611 349.25 L611.3 300.41 L611.32 346.58 L611.6 331.86 L611.9 300.29 L612.2 327.21 L612.5 300.49 L612.8 328.02 L613.1 302.11 L613.4 328.52 L613.7 313.21 L614 328.34 L614.3 310.34 L614.6 324.97 L614.9 310.24 L615.2 323.07 L615.5 310.04 L615.8 325.99 L616.1 310.92 L616.4 325.65 L616.7 316.91 L617 325.62 L617.3 312.89 L617.6 324.84 L617.9 312.97 L618.2 325.55 L618.5 312.48 L618.8 333.2 L619.1 312.43 L619.4 337.8 L619.7 318.75 L620 340.23 L620.3 326.26 L620.6 342.57 L620.9 333.64 L621.2 344.4 L621.5 333.41 L621.8 344.63 L622.1 320.58 L622.4 344.65 L622.7 317.76 L623 344.52 L623.3 317.9 L623.6 343.58 L623.9 317.4 L624.2 343.13 L624.5 316.98 L624.8 343.15 L625.1 310.29 L625.4 343.54 L625.7 309.96 L626 338.5 L626.3 310.47 L626.6 338.47 L626.9 313.37 L627.2 338.39 L627.5 311.16 L627.8 338.03 L628.1 311.66 L628.4 340.95 L628.7 311.19 L629 350.41 L629.3 312.82 L629.6 358.75 L629.9 327.55 L630.2 363.13 L630.5 342.81 L630.8 366.65 L631.1 351.33 L631.4 370.22 L631.7 359.7 L632 371.06 L632.3 363.56 L632.6 371.82 L632.9 367.06 L633.2 372.18 L633.5 357.26 L633.8 371.77 L634.1 340.78 L634.4 371.88 L634.7 330.77 L635 372.27 L635.3 320.8 L635.6 354.58 L635.9 315.45 L636.2 339.72 L636.5 311.73 L636.8 330.17 L637.1 308.48 L637.4 319.94 L637.7 297.9 L638 315.64 L638.3 284.61 L638.6 312.09 L638.9 270.81 L639.2 308.42 L639.5 256.47 L639.8 296.33 L640.1 250.17 L640.4 282.79 L640.7 249.98 L641 293.16 L641.3 250.25 L641.6 293.09 L641.9 255.44 L642.2 293.5 L642.5 275.8 L642.8 293.1 L643.1 268.31 L643.4 289.19 L643.7 262.46 L644 283.07 L644.3 262.41 L644.6 300.43 L644.9 262.46 L645.2 305.9 L645.5 262.87 L645.8 305.79 L646.1 277.83 L646.4 305.65 L646.7 277.88 L647 304.22 L647.3 277.41 L647.6 311.1 L647.9 277.44 L648.2 310.56 L648.5 280.33 L648.8 311.04 L649.1 280.47 L649.4 307.34 L649.7 280.32 L650 307.09 L650.3 280.49 L650.6 306.98 L650.68 328.856 L650.9 287.23 L651 330.5 L651.2 306.58 L651.32 330.163 L651.5 276.25 L651.8 307 L652.1 259.18 L652.4 301.21 L652.68 236.337 L652.7 259.24 L653 293.55 L653 233.75 L653.3 259.37 L653.32 234.51 L653.6 294.34 L653.9 259.42 L654.2 308.11 L654.5 265.79 L654.8 308.43 L655.1 276.38 L655.4 308.05 L655.7 287.95 L656 308.37 L656.3 287.7 L656.6 300.16 L656.9 287.88 L657.2 300.51 L657.5 287.58 L657.8 300.99 L658.1 283.76 L658.4 300.62 L658.7 272.5 L659 300.94 L659.3 266.51 L659.6 294.18 L659.9 266.72 L660.2 282.66 L660.5 266.55 L660.8 274.51 L661.1 266.31 L661.4 286.3 L661.7 267.32 L662 292.71 L662.3 267.55 L662.6 297.69 L662.9 275.84 L663.2 300.61 L663.5 287.5 L663.8 300.72 L664.1 290.97 L664.4 300.72 L664.7 285.57 L665 300.5 L665.3 285.19 L665.6 295.62 L665.9 285.19 L666.2 295.93 L666.5 285.07 L666.8 298.49 L667.1 276.48 L667.4 298.19 L667.7 271.32 L668 329.48 L668.3 271.3 L668.6 329.29 L668.9 271.23 L669.2 329.82 L669.5 290.62 L669.8 329.56 L670.1 312.68 L670.4 325.86 L670.7 312.99 L671 328.58 L671.3 312.87 L671.6 328.11 L671.9 314.74 L672.2 328.15 L672.5 310.01 L672.8 328.02 L673.1 310.44 L673.4 324.72 L673.7 310.38 L674 325.51 L674.3 310.74 L674.6 325.85 L674.9 317.99 L675.2 325.92 L675.5 312.94 L675.8 325.02 L676.1 303.67 L676.4 322.53 L676.7 295.63 L677 320.8 L677.3 287.7 L677.6 311.67 L677.9 287.93 L678.2 302.94 L678.5 287.92 L678.8 300.86 L679.1 287.48 L679.4 300.59 L679.7 288.16 L680 300.95 L680.3 282.4 L680.6 300 L680.9 276.22 L681.2 293.73 L681.5 270.96 L681.8 288 L682.1 265.33 L682.4 281.74 L682.7 263.69 L683 281.97 L683.3 264.05 L683.6 293.14 L683.9 264.05 L684.2 293.26 L684.5 269.41 L684.8 293.48 L685.1 272.45 L685.4 293.49 L685.7 272.49 L686 300.53 L686.3 272.69 L686.6 301.07 L686.9 275.74 L687.2 300.65 L687.5 279.89 L687.8 300.88 L688.1 279.07 L688.4 294.42 L688.7 278.39 L689 284.76 L689.3 277.7 L689.6 290.01 L689.9 277.92 L690.2 302.58 L690.5 277.53 L690.8 311.78 L691.1 279.62 L691.4 318.13 L691.7 291.47 L692 324.6 L692.3 303.98 L692.6 327.13 L692.9 303.84 L693.2 327.16 L693.5 282.84 L693.8 327.08 L694.1 282.45 L694.4 321.87 L694.7 282.85 L695 300.81 L695.3 282.74 L695.6 304.37 L695.9 283.23 L696.2 313.18 L696.5 283.61 L696.8 313.07 L697.1 291.94 L697.4 313.57 L697.7 300.19 L698 321.66 L698.3 300.22 L698.6 335.82 L698.9 300.41 L699.2 335.57 L699.5 307.42 L699.8 335.68 L700.1 317.76 L700.4 335.67 L700.7 317.85 L701 340.55 L701.3 317.67 L701.6 341 L701.9 318.53 L702.2 340.84 L702.5 310.11 L702.8 340.62 L703.1 310.07 L703.4 340.68 L703.7 310.17 L704 363.37 L704.3 311.52 L704.6 376.34 L704.9 327.25 L705.2 381.68 L705.5 342.69 L705.8 384.48 L706.1 366.65 L706.4 384.26 L706.7 376.32 L707 384.77 L707.3 372.86 L707.6 383.94 L707.9 372.71 L708.2 379.92 L708.5 372.41 L708.8 382.03 L709.1 372.54 L709.4 383.1 L709.7 375.53 L710 383.52 L710.3 375.42 L710.6 383.04 L710.9 372.08 L711.2 382.14 L711.5 371.31 L711.8 378.57 L712.1 371.61 L712.4 381.08 L712.7 371.31 L713 380.59 L713.3 363.05 L713.6 380.71 L713.9 352.99 L714.2 380.87 L714.5 351.24 L714.8 371.96 L715.1 351.44 L715.4 369.69 L715.7 351.3 L716 374.88 L716.3 355.21 L716.6 379.61 L716.9 362.57 L717.2 384.41 L717.5 370.42 L717.8 384.77 L718.1 373.2 L718.4 384.71 L718.7 366.3 L719 384.55 L719.3 362.02 L719.6 380.04 L719.9 358.3 L720.2 372.37 L720.5 353.98 L720.8 366.34 L721.1 354.27 L721.18 297.035 L721.4 381.55 L721.5 296.75 L721.7 354.23 L721.82 298.342 L722 384.68 L722.3 354.32 L722.6 384.48 L722.9 364.08 L723.2 384.48 L723.5 362.81 L723.8 380.47 L724.1 362.49 L724.4 379.3 L724.7 362.73 L725 383.11 L725.3 366.25 L725.6 383.09 L725.9 361.95 L726.2 383.35 L726.5 360.45 L726.8 382.65 L727.1 360.31 L727.4 381.01 L727.7 358.4 L728 381.08 L728.3 329.98 L728.6 380.76 L728.9 318.35 L729.2 380.51 L729.5 316.47 L729.8 354.44 L730.1 315.2 L730.4 325.85 L730.7 315.04 L731 328.32 L731.3 314.9 L731.6 328.31 L731.9 316.69 L732.2 328.41 L732.5 312.77 L732.8 328.21 L733.1 312.64 L733.4 340.81 L733.7 312.43 L734 343.41 L734.3 313.88 L734.6 343.06 L734.9 317.78 L735.2 343.24 L735.5 317.66 L735.8 343.54 L736.1 317.47 L736.4 348.58 L736.7 317.71 L737 348.26 L737.3 307.7 L737.6 348.6 L737.9 294.04 L738.2 342.18 L738.5 293.76 L738.8 323.53 L739.1 294.06 L739.4 321.25 L739.7 293.75 L740 324.97 L740.3 304.63 L740.6 331.34 L740.9 315.69 L741.2 348.09 L741.5 320.74 L741.8 363.53 L742.1 325.08 L742.4 363.09 L742.7 333.43 L743 363.31 L743.3 340.38 L743.6 363.11 L743.9 335.95 L744.2 356.18 L744.5 331.07 L744.8 346.41 L745.1 328.9 L745.4 340.3 L745.43 308.495 L745.7 329.47 L745.75 309.25 L746 343.25 L746.07 307.782 L746.3 329.03 L746.6 343.18 L746.9 326.39 L747.2 343 L747.5 320.32 L747.8 343.51 L748.1 320.15 L748.4 341.6 L748.7 320.38 L749 343.3 L749.3 321.07 L749.6 343.16 L749.9 325.11 L750.2 343.32 L750.5 317.4 L750.8 339.59 L751.1 317.75 L751.4 343.95 L751.7 317.91 L752 347.21 L752.3 317.94 L752.6 346.81 L752.9 329.4 L753.2 347.06 L753.5 335.01 L753.8 344.87 L754.1 335.02 L754.4 341.54 L754.7 335.49 L755 343.46 L755.3 336.59 L755.6 343.43 L755.9 331.29 L756.2 343.1 L756.5 330.34 L756.8 342.56 L757.1 329.96 L757.4 345.85 L757.7 330.29 L758 345.77 L758.3 331.83 L758.6 345.53 L758.9 324.77 L759.18 263.412 L759.2 345.85 L759.5 318.42 L759.5 261.75 L759.8 338.72 L759.82 262.43 L760.1 310.53 L760.18 341.282 L760.4 330.93 L760.5 343 L760.7 305.47 L760.82 342.661 L761 324.81 L761.3 304.99 L761.6 317.84 L761.9 304.96 L762.2 320.56 L762.5 305.32 L762.8 320.86 L763.1 304.62 L763.4 320.8 L763.7 297.43 L764 320.65 L764.3 297.77 L764.6 316.03 L764.9 297.87 L765.2 318.19 L765.5 294.97 L765.8 318.29 L766.1 278.22 L766.4 318.15 L766.7 267.8 L767 310.72 L767.3 266.89 L767.43 194.04 L767.6 293.58 L767.75 192.5 L767.9 266.83 L768.07 194.265 L768.2 293.34 L768.5 266.93 L768.8 293.32 L769.1 273.79 L769.4 293.24 L769.7 267.5 L770 286.82 L770.3 266.5 L770.43 248.241 L770.6 294.07 L770.75 248 L770.9 266.85 L771.07 249.224 L771.2 306.61 L771.5 266.83 L771.68 360.28 L771.8 306.64 L772 360.5 L772.1 278.04 L772.32 359.181 L772.4 306.9 L772.7 282.9 L773 306.59 L773.3 269.48 L773.6 300.08 L773.9 265.34 L774.2 294.04 L774.5 265.42 L774.8 305.77 L775.1 265 L775.4 305.98 L775.7 271.8 L776 305.71 L776.3 290.67 L776.6 311.23 L776.9 292.42 L777.2 329.12 L777.5 292.43 L777.8 330.8 L778.1 295.86 L778.4 330.77 L778.7 301.42 L779 330.92 L779.3 289.34 L779.6 324.04 L779.9 280.15 L780.2 311.72 L780.5 280.35 L780.8 299.86 L781.1 280.37 L781.4 288.52 L781.7 280.43 L782 288.31 L782.3 274.67 L782.6 288.16 L782.9 268.54 L783.2 286.23 L783.5 266.89 L783.8 280.34 L784.1 266.24 L784.4 274.23 L784.7 265.52 L785 268.11 L785.3 256.82 L785.6 267.34 L785.9 248.02 L786.2 266.35 L786.5 239.16 L786.8 303.32 L787.1 239.2 L787.4 345.68 L787.7 239.46 L788 345.69 L788.3 239.36 L788.6 345.58 L788.9 301.57 L789.2 342 L789.5 287.76 L789.8 331.38 L790.1 287.54 L790.4 320.36 L790.43 326.66 L790.7 285.48 L790.75 329.25 L791 306.58 L791.07 327.598 L791.3 275.33 L791.6 306.52 L791.9 275.09 L792.18 305.856 L792.2 298.8 L792.5 275.29 L792.5 308 L792.8 305.75 L792.82 305.729 L792.93 273.344 L793.1 277.8 L793.25 273 L793.4 305.92 L793.57 275.972 L793.7 277.85 L794 306.01 L794.3 277.79 L794.6 305.88 L794.9 277.89 L795.2 303.07 L795.43 270.165 L795.5 277.45 L795.75 268 L795.8 303.44 L795.93 298.009 L796.07 268.306 L796.1 281.07 L796.25 300.5 L796.4 294.49 L796.57 299.324 L796.68 257.264 L796.7 278.98 L797 284.6 L797 256.75 L797.18 299.689 L797.3 278.88 L797.32 259.63 L797.5 298 L797.6 284.68 L797.82 300.325 L797.9 278.77 L797.93 265.91 L798.2 283.27 L798.25 265.5 L798.43 296.923 L798.5 278.81 L798.57 267.828 L798.75 296.75 L798.8 287.98 L799.07 297.461 L799.1 278.89 L799.18 261.617 L799.4 293.5 L799.5 260.5 L799.7 266.99 L799.82 260.546 L800 293.43 L800.3 265.35 L800.6 293.26 L800.9 260.84 L801.2 290.71 L801.5 256.75 L801.8 291 L802.1 256.28 L802.4 283.92 L802.48 462.136 L802.7 255.97 L802.8 464 L802.98 460.311 L803 268.51 L803.12 461.384 L803.3 247.64 L803.3 462 L803.48 461.388 L803.6 268.03 L803.62 459.247 L803.8 464 L803.9 247.85 L803.98 458.764 L804.12 463.496 L804.2 268.07 L804.3 461 L804.48 461.709 L804.5 247.53 L804.62 459.976 L804.8 265.63 L804.8 464 L805.1 244.95 L805.12 461.958 L805.4 278.45 L805.7 245.45 L806 278.42 L806.3 245.26 L806.6 280.95 L806.9 250 L807.2 280.67 L807.5 250.45 L807.8 281.07 L807.93 244.783 L808.1 256.25 L808.25 243 L808.4 281.06 L808.43 276.4 L808.57 243.639 L808.7 256.09 L808.75 275.5 L809 273.44 L809.07 277.622 L809.18 236.278 L809.3 251.39 L809.5 235 L809.6 273.38 L809.82 237.666 L809.9 238.21 L810.2 273.03 L810.5 235.83 L810.8 278.26 L811.1 235.94 L811.4 278.56 L811.7 236.17 L812 285.96 L812.3 255.47 L812.6 285.92 L812.9 255.02 L813.2 295.66 L813.5 265.17 L813.8 303.58 L814.1 265.12 L814.4 477.33 L814.7 280.35 L815 477.04 L815.25 477"/>
</defs>
<!-- legend samples -->
<line x1="91.9" x2="119.2" y1="89.3" y2="89.3" stroke="#f0622a" stroke-width="1.5" stroke-dasharray="5.3 5.49"/>
<line x1="188.1" x2="213.2" y1="89.3" y2="89.3" stroke="#f4f4f4" stroke-width="1.5" stroke-dasharray="3 2.47"/>
<!-- plot -->
<rect x="92.7" y="101.4" width="723.55" height="430.35" fill="#333333"/>
<g stroke="#232323" stroke-width="1.45"><line x1="92.7" x2="816.25" y1="531.75" y2="531.75"/><line x1="92.7" x2="816.25" y1="515.82" y2="515.82"/><line x1="92.7" x2="816.25" y1="499.88" y2="499.88"/><line x1="92.7" x2="816.25" y1="483.95" y2="483.95"/><line x1="92.7" x2="816.25" y1="468.02" y2="468.02"/><line x1="92.7" x2="816.25" y1="452.09" y2="452.09"/><line x1="92.7" x2="816.25" y1="436.15" y2="436.15"/><line x1="92.7" x2="816.25" y1="420.22" y2="420.22"/><line x1="92.7" x2="816.25" y1="404.29" y2="404.29"/><line x1="92.7" x2="816.25" y1="388.36" y2="388.36"/><line x1="92.7" x2="816.25" y1="372.42" y2="372.42"/><line x1="92.7" x2="816.25" y1="356.49" y2="356.49"/><line x1="92.7" x2="816.25" y1="340.56" y2="340.56"/><line x1="92.7" x2="816.25" y1="324.62" y2="324.62"/><line x1="92.7" x2="816.25" y1="308.69" y2="308.69"/><line x1="92.7" x2="816.25" y1="292.76" y2="292.76"/><line x1="92.7" x2="816.25" y1="276.83" y2="276.83"/><line x1="92.7" x2="816.25" y1="260.89" y2="260.89"/><line x1="92.7" x2="816.25" y1="244.96" y2="244.96"/><line x1="92.7" x2="816.25" y1="229.03" y2="229.03"/><line x1="92.7" x2="816.25" y1="213.10" y2="213.10"/><line x1="92.7" x2="816.25" y1="197.16" y2="197.16"/><line x1="92.7" x2="816.25" y1="181.23" y2="181.23"/><line x1="92.7" x2="816.25" y1="165.30" y2="165.30"/><line x1="92.7" x2="816.25" y1="149.37" y2="149.37"/><line x1="92.7" x2="816.25" y1="133.43" y2="133.43"/><line x1="92.7" x2="816.25" y1="117.50" y2="117.50"/><line x1="207.0" x2="207.0" y1="101.4" y2="531.75"/><line x1="321.05" x2="321.05" y1="101.4" y2="531.75"/><line x1="435.1" x2="435.1" y1="101.4" y2="531.75"/><line x1="549.2" x2="549.2" y1="101.4" y2="531.75"/><line x1="663.25" x2="663.25" y1="101.4" y2="531.75"/><line x1="777.3" x2="777.3" y1="101.4" y2="531.75"/></g>
<line x1="92.7" x2="92.7" y1="101.4" y2="531.75" stroke="#2a2a2a" stroke-width="1"/>
<line x1="91.9" x2="816.25" y1="109.2" y2="109.2" stroke="#f0622a" stroke-width="1.5" stroke-dasharray="5.3 5.49" clip-path="url(#pc)"/>
<line x1="92.4" x2="816.25" y1="310.7" y2="310.7" stroke="#f4f4f4" stroke-width="1.5" stroke-dasharray="2.9 2.5"/>
<g clip-path="url(#pc)"><use href="#dl" fill="none" stroke="#f4a900" stroke-width="1.15" stroke-linejoin="round"/></g>
<line x1="92.4" x2="816.25" y1="310.7" y2="310.7" stroke="#f4f4f4" stroke-opacity="0.28" stroke-width="1.5" stroke-dasharray="2.9 2.5"/>
<!-- minimap -->
<rect x="693.25" y="455.6" width="115.04999999999995" height="67.5" fill="#323232"/>
<g clip-path="url(#mc)"><g stroke="#2b2b2b" stroke-width="0.6"><line x1="711.42" x2="711.42" y1="455.6" y2="523.1"/><line x1="729.56" x2="729.56" y1="455.6" y2="523.1"/><line x1="747.69" x2="747.69" y1="455.6" y2="523.1"/><line x1="765.84" x2="765.84" y1="455.6" y2="523.1"/><line x1="783.97" x2="783.97" y1="455.6" y2="523.1"/><line x1="802.11" x2="802.11" y1="455.6" y2="523.1"/><line x1="693.25" x2="808.3" y1="518.10" y2="518.10"/><line x1="693.25" x2="808.3" y1="513.10" y2="513.10"/><line x1="693.25" x2="808.3" y1="508.11" y2="508.11"/><line x1="693.25" x2="808.3" y1="503.11" y2="503.11"/><line x1="693.25" x2="808.3" y1="498.11" y2="498.11"/><line x1="693.25" x2="808.3" y1="493.11" y2="493.11"/><line x1="693.25" x2="808.3" y1="488.11" y2="488.11"/><line x1="693.25" x2="808.3" y1="483.12" y2="483.12"/><line x1="693.25" x2="808.3" y1="478.12" y2="478.12"/><line x1="693.25" x2="808.3" y1="473.12" y2="473.12"/><line x1="693.25" x2="808.3" y1="468.12" y2="468.12"/><line x1="693.25" x2="808.3" y1="463.12" y2="463.12"/><line x1="693.25" x2="808.3" y1="458.13" y2="458.13"/></g>
<line x1="693.25" x2="808.3" y1="488.43" y2="488.43" stroke="#888" stroke-opacity="0.35" stroke-width="0.6"/>
<path d="M693.23 495.38 L693.30 471.07 L693.39 466.36 L693.50 473.42 L693.58 486.75 L693.65 477.34 L693.74 512.79 L693.84 472.01 L693.93 512.79 L694.03 486.75 L694.16 483.61 L694.25 480.79 L694.43 475.46 L694.57 478.91 L694.79 476.08 L694.97 480.79 L695.01 481.73 L695.21 479.77 L695.40 482.91 L695.60 487.02 L695.84 482.52 L696.16 478.79 L696.40 482.52 L696.80 480.16 L696.99 489.97 L697.27 497.61 L697.59 497.42 L697.79 496.63 L697.99 483.69 L698.23 497.42 L698.39 496.63 L698.58 484.87 L698.98 479.57 L699.18 489.97 L699.38 482.52 L699.58 485.65 L699.78 481.73 L699.98 479.97 L700.37 491.14 L700.57 483.69 L700.97 492.71 L701.17 482.52 L701.49 480.16 L701.76 477.26 L701.88 498.98 L702.04 497.42 L702.20 499.18 L702.36 486.83 L702.56 498.59 L702.84 497.42 L703.08 498.40 L703.24 496.63 L703.35 487.22 L703.63 484.87 L703.87 489.57 L704.15 483.30 L704.35 500.36 L704.55 500.47 L704.75 498.20 L704.95 486.83 L705.22 482.12 L705.46 487.61 L705.70 481.73 L705.94 477.14 L706.14 486.83 L706.34 484.08 L706.54 482.91 L706.73 489.57 L707.05 478.40 L707.33 485.65 L707.61 488.79 L707.93 494.28 L708.13 489.57 L708.32 493.49 L708.52 488.40 L708.72 492.71 L708.92 496.24 L709.04 481.93 L709.32 487.61 L709.52 482.32 L709.72 489.57 L709.91 494.08 L710.19 487.61 L710.39 481.53 L710.51 496.63 L710.71 494.67 L710.91 496.63 L711.19 494.87 L711.42 496.44 L711.70 494.67 L711.90 496.24 L712.10 497.22 L712.30 496.24 L712.50 489.57 L712.70 488.01 L712.90 493.49 L713.09 488.40 L713.29 491.53 L713.49 496.04 L713.69 489.57 L713.89 486.44 L714.09 489.57 L714.29 481.73 L714.41 477.42 L714.60 493.49 L714.88 487.61 L715.08 495.46 L715.28 488.40 L715.56 494.67 L715.80 488.40 L716.08 498.20 L716.19 484.48 L716.35 489.57 L716.59 483.69 L716.79 478.79 L716.99 485.65 L717.15 482.32 L717.39 492.71 L717.67 491.53 L717.86 495.46 L718.06 493.49 L718.26 495.85 L718.46 487.61 L718.66 483.69 L718.86 493.49 L719.06 496.24 L719.37 497.42 L719.53 493.49 L719.77 485.65 L720.05 483.89 L720.17 487.61 L720.33 479.57 L720.49 489.57 L720.65 493.10 L720.85 489.57 L721.04 493.49 L721.24 493.69 L721.36 487.61 L721.52 483.69 L721.76 483.10 L721.92 487.61 L722.16 484.67 L722.44 487.61 L722.63 491.53 L723.03 489.18 L723.23 492.32 L723.51 484.87 L723.75 492.91 L724.03 488.01 L724.22 483.89 L724.42 489.57 L724.62 484.48 L724.82 491.53 L725.02 494.28 L725.22 496.24 L725.42 491.53 L725.62 481.73 L725.81 478.20 L726.01 474.40 L726.13 489.57 L726.41 492.71 L726.61 490.75 L726.85 485.65 L727.01 473.89 L727.13 466.05 L727.25 458.99 L727.40 456.83 L727.56 460.95 L727.68 456.75 L727.84 461.34 L727.96 456.75 L728.12 462.12 L728.24 466.05 L728.36 473.89 L728.48 485.65 L728.60 493.49 L728.80 483.69 L728.92 473.89 L728.99 468.56 L729.19 474.05 L729.31 467.61 L729.39 465.97 L729.55 474.63 L729.71 468.01 L729.87 473.50 L730.07 472.87 L730.19 466.83 L730.39 465.11 L730.51 476.79 L730.70 467.58 L730.94 475.22 L731.10 471.93 L731.26 470.12 L731.46 476.79 L731.62 473.10 L731.78 470.52 L731.94 476.40 L732.10 481.73 L732.18 483.46 L732.33 489.57 L732.49 485.65 L732.65 477.97 L732.81 479.38 L732.97 476.24 L733.17 472.08 L733.37 478.75 L733.45 477.03 L733.61 478.99 L733.77 473.89 L734.00 481.73 L734.24 487.81 L734.40 479.77 L734.52 474.01 L734.72 480.16 L734.92 474.79 L735.12 483.30 L735.32 479.38 L735.51 481.73 L735.71 479.38 L735.91 477.65 L736.11 480.16 L736.31 481.73 L736.63 483.69 L736.91 486.04 L737.10 480.75 L737.30 490.16 L737.50 485.65 L737.82 481.53 L737.98 488.40 L738.30 481.53 L738.50 484.48 L738.77 483.69 L739.01 487.61 L739.29 489.97 L739.57 493.49 L739.81 489.57 L740.09 483.69 L740.28 487.61 L740.68 482.52 L740.88 487.61 L741.16 471.54 L741.32 488.40 L741.48 481.34 L741.68 485.65 L741.95 482.52 L742.11 486.83 L742.35 490.75 L742.59 493.10 L742.75 489.57 L742.99 487.22 L743.27 492.71 L743.46 484.87 L743.66 489.57 L743.78 474.99 L743.94 481.73 L744.10 464.09 L744.26 491.93 L744.46 487.61 L744.66 481.73 L744.86 476.56 L745.05 480.95 L745.29 474.40 L745.45 483.69 L745.65 482.91 L745.85 487.61 L746.05 489.57 L746.25 483.69 L746.45 486.83 L746.64 477.73 L746.84 485.65 L747.04 489.97 L747.24 484.87 L747.44 487.61 L747.64 480.36 L747.84 491.14 L748.04 491.34 L748.23 483.69 L748.63 482.12 L748.83 486.83 L749.03 483.69 L749.23 485.65 L749.63 479.57 L749.75 492.71 L750.02 492.91 L750.22 487.61 L750.42 485.46 L750.62 493.10 L750.82 489.57 L751.02 484.08 L751.22 488.40 L751.49 480.95 L751.73 485.65 L751.89 482.52 L752.13 489.18 L752.29 484.87 L752.53 485.65 L752.81 481.73 L752.93 489.57 L753.08 492.12 L753.32 489.57 L753.60 487.22 L753.80 484.87 L754.00 489.18 L754.20 486.04 L754.40 489.57 L754.60 486.04 L754.91 485.26 L755.07 488.01 L755.31 485.65 L755.59 484.08 L755.79 483.69 L755.99 487.22 L756.19 484.28 L756.38 497.22 L756.58 484.87 L756.78 489.57 L756.98 496.24 L757.18 492.32 L757.38 495.06 L757.58 491.53 L757.78 494.67 L757.97 490.75 L758.17 489.57 L758.37 488.01 L758.57 485.65 L758.77 483.69 L758.97 484.87 L759.17 473.89 L759.25 471.07 L759.37 481.73 L759.44 473.03 L759.60 483.69 L759.76 489.57 L759.96 493.49 L760.08 497.42 L760.24 493.49 L760.40 485.65 L760.56 492.91 L760.76 475.46 L760.96 469.18 L761.11 477.42 L761.27 470.09 L761.43 478.59 L761.59 480.16 L761.75 468.91 L761.91 481.73 L762.07 472.83 L762.23 483.30 L762.47 487.61 L762.74 489.57 L762.94 483.69 L763.14 483.50 L763.34 488.79 L763.54 490.75 L763.74 486.63 L763.94 492.32 L764.14 489.57 L764.45 491.53 L764.73 489.18 L765.01 492.91 L765.21 489.57 L765.41 484.08 L765.57 489.57 L765.73 492.32 L765.92 488.79 L766.12 486.83 L766.32 485.65 L766.60 484.28 L766.84 488.01 L767.00 491.53 L767.24 496.63 L767.51 497.42 L767.63 493.49 L767.79 480.36 L767.95 489.57 L768.11 486.83 L768.31 489.18 L768.51 485.65 L768.71 489.18 L768.91 486.04 L769.10 484.87 L769.30 487.61 L769.50 484.48 L769.70 483.30 L769.90 492.91 L770.10 485.65 L770.30 482.12 L770.50 487.61 L770.77 480.36 L770.97 484.87 L771.21 489.18 L771.49 487.61 L771.69 495.85 L771.81 483.69 L771.89 473.89 L771.97 468.95 L772.09 475.46 L772.17 479.14 L772.28 473.10 L772.40 470.75 L772.56 469.73 L772.68 473.89 L772.76 475.61 L772.88 471.93 L772.96 470.52 L773.12 473.89 L773.28 471.54 L773.36 476.40 L773.48 469.97 L773.56 466.20 L773.68 471.93 L773.80 475.46 L773.87 473.10 L773.95 471.30 L774.03 477.57 L774.15 473.89 L774.31 475.46 L774.35 479.14 L774.47 473.89 L774.55 472.08 L774.67 476.24 L774.75 479.34 L774.87 475.46 L774.99 473.89 L775.11 473.50 L775.19 477.97 L775.27 477.03 L775.35 483.06 L775.50 489.57 L775.66 494.48 L775.82 486.83 L776.02 491.14 L776.30 488.40 L776.54 490.75 L776.82 488.79 L777.09 492.32 L777.41 493.69 L777.61 489.57 L777.81 493.49 L778.01 488.40 L778.21 492.71 L778.41 488.59 L778.61 493.49 L778.80 496.24 L779.08 497.81 L779.32 498.00 L779.48 493.49 L779.72 489.57 L780.00 488.01 L780.20 483.69 L780.39 478.99 L780.59 485.65 L780.79 483.69 L780.99 480.95 L781.19 487.61 L781.39 483.30 L781.59 488.40 L781.79 483.69 L782.02 491.53 L782.18 485.65 L782.34 476.36 L782.50 482.52 L782.66 488.01 L782.90 484.87 L783.18 486.83 L783.46 481.53 L783.69 481.73 L783.85 484.87 L784.09 486.83 L784.37 484.48 L784.65 486.44 L784.77 482.32 L784.89 491.34 L785.16 488.79 L785.36 491.14 L785.56 488.40 L785.76 490.75 L786.00 489.97 L786.16 487.61 L786.36 484.87 L786.56 486.83 L786.87 483.69 L787.15 481.14 L787.35 485.65 L787.55 482.52 L787.75 486.83 L787.95 483.69 L788.23 483.30 L788.46 488.01 L788.74 490.95 L788.94 484.08 L789.14 484.28 L789.34 488.79 L789.54 486.83 L789.74 492.32 L789.93 489.57 L790.13 493.10 L790.33 488.40 L790.53 493.49 L790.65 498.20 L790.85 499.96 L791.13 498.20 L791.41 499.77 L791.72 498.00 L791.92 499.38 L792.20 494.87 L792.44 497.81 L792.72 499.96 L792.92 497.42 L793.23 486.24 L793.39 499.96 L793.63 496.63 L793.91 499.77 L794.11 496.24 L794.31 499.38 L794.51 489.97 L794.70 489.18 L794.90 491.14 L795.10 488.79 L795.30 493.49 L795.50 489.57 L795.70 494.28 L795.98 485.85 L796.18 489.57 L796.41 491.14 L796.61 496.63 L796.81 493.49 L797.09 488.20 L797.29 493.49 L797.49 489.97 L797.69 493.49 L798.00 489.57 L798.16 494.08 L798.40 492.32 L798.68 493.49 L798.88 491.53 L799.08 493.89 L799.28 480.75 L799.44 493.49 L799.59 487.61 L799.87 489.97 L800.07 486.44 L800.27 489.57 L800.47 483.69 L800.59 469.89 L800.71 485.65 L800.87 483.69 L801.07 478.59 L801.26 496.24 L801.46 485.65 L801.66 481.34 L801.86 487.61 L802.06 485.65 L802.26 491.53 L802.46 487.61 L802.66 483.69 L802.85 484.87 L803.17 481.73 L803.45 481.34 L803.73 477.26 L803.81 493.89 L804.05 489.57 L804.17 484.87 L804.25 491.34 L804.36 485.65 L804.44 482.91 L804.52 488.01 L804.64 482.52 L804.72 487.61 L804.84 483.30 L804.92 487.22 L805.04 481.73 L805.12 486.83 L805.24 479.97 L805.32 486.44 L805.44 481.34 L805.52 486.24 L805.64 480.55 L805.72 485.65 L805.84 481.34 L805.91 485.26 L806.03 479.97 L806.16 512.47 L806.23 481.73 L806.32 480.48 L806.35 478.59 L806.48 512.47 L806.51 481.34 L806.63 478.20 L806.71 483.30 L806.83 478.99 L806.91 483.69 L807.03 477.81 L807.11 482.91 L807.23 476.56 L807.31 482.52 L807.35 479.38 L807.47 476.75 L807.54 483.30 L807.62 479.77 L807.74 484.48 L807.82 481.34 L807.94 486.04 L808.02 483.69 L808.10 489.57 L808.14 514.51" fill="none" stroke="#f4a900" stroke-opacity="0.85" stroke-width="0.5" stroke-linejoin="round"/></g>
<rect x="693.25" y="455.6" width="115.04999999999995" height="67.5" fill="none" stroke="#8e8e8e" stroke-width="0.9"/>
<!-- icons placeholder -->
<g id="icons" fill="none" stroke-linecap="round">
<g stroke="#686868" stroke-width="1.3"><circle cx="828.1" cy="476.8" r="4.3"/><line x1="831.4" y1="480.1" x2="835.6" y2="484.3" stroke-width="1.5"/><line x1="826.5" y1="476.8" x2="829.7" y2="476.8" stroke-width="1.1"/></g>
<g stroke="#ececec" stroke-width="1.5"><circle cx="828.1" cy="498.2" r="4.3"/><line x1="831.6" y1="501.7" x2="835.6" y2="505.7" stroke-width="1.9"/><line x1="826.3" y1="498.2" x2="829.9" y2="498.2" stroke-width="1.3"/><line x1="828.1" y1="496.4" x2="828.1" y2="500" stroke-width="1.3"/></g>
<g stroke="#626262" stroke-width="1.3" stroke-linecap="butt"><path d="M823.6 518.6V515.5H826.8M833.2 515.5H836.3V518.6M836.3 524V527.2H833.2M826.8 527.2H823.6V524"/><circle cx="829.9" cy="521.4" r="1.9" fill="#626262" stroke="none"/></g>
</g>
<!-- logo placeholder -->
<g id="logo">
<text x="924" y="111" font-family="Liberation Sans" font-weight="bold" font-size="15.6" fill="#ffffff" textLength="28.8" lengthAdjust="spacingAndGlyphs" stroke="#ffffff" stroke-width="0.5">dts</text>
<path d="M957.23 103.41 L969.76 103.41 L969.76 110.38 L957.43 110.38Z" fill="#5e3a12"/>
<g fill="url(#xg)"><path d="M951.83 97.05 L960.67 97.05 L964.20 100.69 L967.74 97.05 L975.31 97.05 L970.36 103.41 L956.63 103.41Z"/><path d="M952.33 115.48 L961.68 115.48 L963.95 112.61 L966.22 115.48 L975.57 115.48 L970.36 110.38 L956.88 110.38Z"/><path d="M956.42 103.72 Q963.39 104.12 970.36 103.72 L970.06 104.63 Q963.39 105.03 956.73 104.63Z"/><path d="M957.74 105.18 Q963.55 105.59 969.35 105.18 L969.05 106.55 Q963.55 106.95 958.04 106.55Z"/><path d="M958.14 107.10 Q963.57 106.70 969.00 107.10 L968.70 108.36 Q963.57 107.96 958.44 108.36Z"/><path d="M957.13 108.92 Q963.55 108.52 969.96 108.92 L969.66 110.18 Q963.55 109.78 957.43 110.18Z"/></g>
<text x="951" y="119.8" font-family="Liberation Sans" font-weight="bold" font-size="4.4" fill="#dcdcdc" textLength="24.8" lengthAdjust="spacingAndGlyphs">Master Audio</text>
<circle cx="977.6" cy="98.7" r="0.65" fill="#c4c4c4"/>
</g>
</svg>
</body></html>
